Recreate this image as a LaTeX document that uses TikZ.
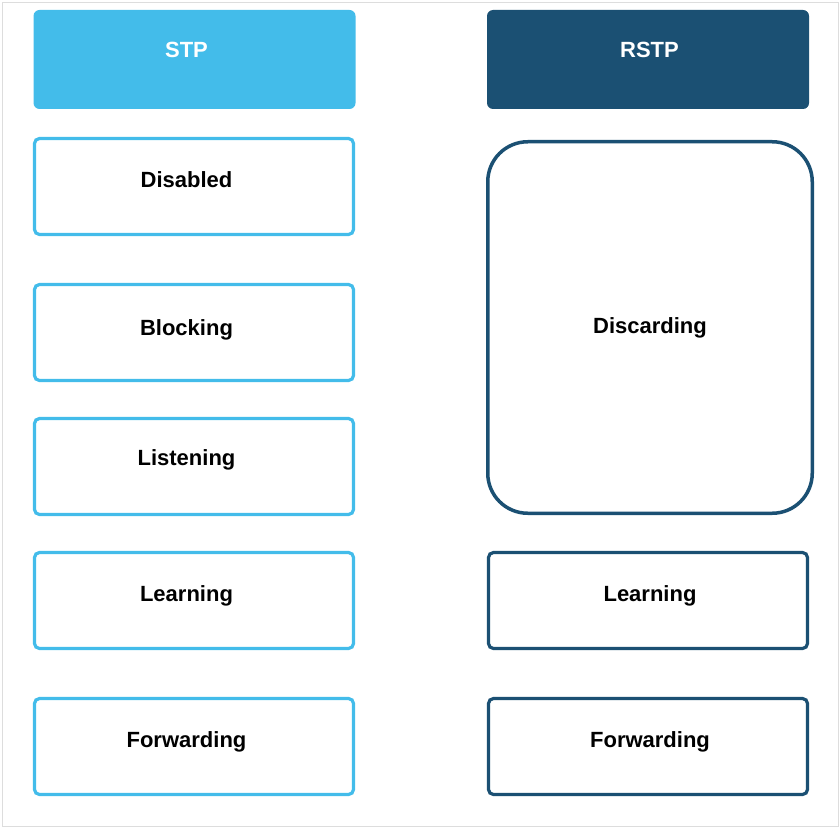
\documentclass[tikz,border=0pt]{standalone}
\usepackage{fontspec}
\setmainfont{Liberation Sans}
\definecolor{stpblue}{RGB}{67,188,234}
\definecolor{rstpblue}{RGB}{27,80,115}
\definecolor{framegray}{RGB}{221,221,221}
\begin{document}
\begin{tikzpicture}[
    x=1pt,y=1pt,
    yscale=-1,xscale=1,
    font = \bfseries\fontsize{22}{26}\selectfont,
    head/.style ={rectangle, rounded corners=6, minimum width=322, minimum height=99,
        inner sep=0, text=white},
    stpbox/.style ={rectangle, draw=stpblue, line width=3.2, rounded corners=5,
        minimum width=319, minimum height=96, inner sep=0},
    rstpbox/.style ={rectangle, draw=rstpblue, line width=3.2, rounded corners=5,
        minimum width=319, minimum height=96, inner sep=0},
    txt/.style ={anchor=base, inner sep=0},
]

    % 边框
    \useasboundingbox (0,0) rectangle (840,829);
    \draw [framegray, line width=1] (2.5,3) rectangle (838.5,826.5);

    % 标题
    \node [head, fill=stpblue]  (stp)  at (194.5,59.5) {};
    \node [head, fill=rstpblue] (rstp) at (648,59.5)   {};

    % STP 状态
    \node [stpbox] (dis)  at (194,186.5) {};
    \node [stpbox] (blk)  at (194,332.5) {};
    \node [stpbox] (lis)  at (194,466.5) {};
    \node [stpbox] (lrn)  at (194,600.5) {};
    \node [stpbox] (fwd)  at (194,746.5) {};

    % RSTP 状态
    \node [rstpbox, line width=3.5, rounded corners=40,
        minimum width=324.5, minimum height=371.5] (dsc) at (650,327.5) {};
    \node [rstpbox] (rlrn) at (648,600.5) {};
    \node [rstpbox] (rfwd) at (648,746.5) {};

    % 文本
    \node [txt, text=white] at ([xshift=-8,yshift=-2]stp.center)  {STP};
    \node [txt, text=white] at ([xshift=1.5,yshift=-2]rstp.center) {RSTP};
    \node [txt] at ([xshift=-7.5,yshift=1]dis.center)  {Disabled};
    \node [txt] at ([xshift=-7.5,yshift=3]blk.center)  {Blocking};
    \node [txt] at ([xshift=-7.5,yshift=-1]lis.center) {Listening};
    \node [txt] at ([xshift=-7.5,yshift=1]lrn.center)  {Learning};
    \node [txt] at ([xshift=-7.5,yshift=1]fwd.center)  {Forwarding};
    \node [txt] at ([yshift=5.5]dsc.center) {Discarding};
    \node [txt] at ([xshift=2,yshift=1]rlrn.center) {Learning};
    \node [txt] at ([xshift=2,yshift=1]rfwd.center) {Forwarding};
\end{tikzpicture}
\end{document}
